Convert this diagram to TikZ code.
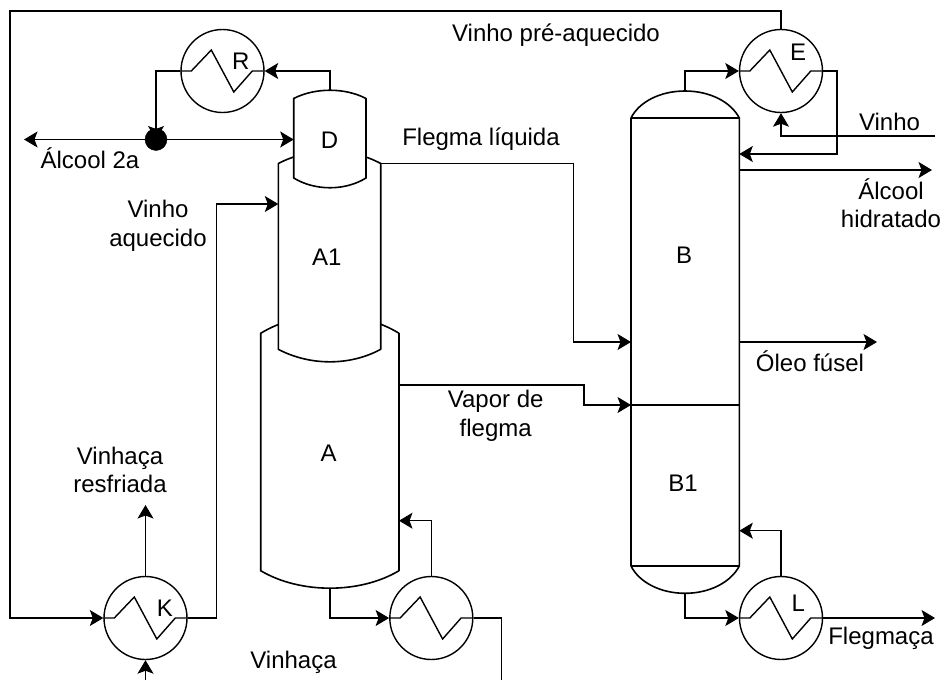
\documentclass[tikz,border=0pt]{standalone}
\usepackage{fontspec}
\setmainfont{Liberation Sans}
\usetikzlibrary{arrows.meta}
\tikzset{
  pipe/.style={line width=1.05pt,black},
  flow/.style={pipe,-{Stealth[length=13.5pt,width=16pt,inset=3pt]}},
  vessel/.style={line width=1.6pt,black,fill=white,line join=round},
  exch/.style={circle,draw=black,line width=1.4pt,minimum size=83pt,inner sep=0pt},
  coilline/.style={line width=1.4pt,black,line join=miter},
  txt/.style={font=\fontsize{24}{28.5}\selectfont,text=black,inner sep=0pt,align=center,anchor=base},
  hub/.style={circle,fill=black,draw=black,minimum size=22pt,inner sep=0pt}
}
\newcommand{\coil}[1]{\draw[coilline] (#1.west) -- ++(11,0) -- ++(20,-21) -- ++(22.5,42) -- ++(18.5,-21) -- (#1.east);}
\begin{document}
\begin{tikzpicture}[x=1pt,y=-1pt]
\useasboundingbox (0,0) rectangle (944,680);
% vessels
\draw[vessel] (260.7,333.3) .. controls (300,309) and (360,309) .. (399,333.3) -- (399,570.7) .. controls (360,594) and (300,594) .. (260.7,570.7) -- cycle;
\draw[vessel] (278.3,163.5) .. controls (310,147) and (350,147) .. (380.7,163.5) -- (380.7,349.3) .. controls (350,366) and (310,366) .. (278.3,349.3) -- cycle;
\draw[vessel] (293.7,98.5) .. controls (315,87.5) and (345,87.5) .. (366,98.5) -- (366,178) .. controls (345,191) and (315,191) .. (293.7,178) -- cycle;
\draw[vessel] (631,118) .. controls (639,102) and (660,91) .. (685,91) .. controls (710,91) and (731,102) .. (739.3,118) -- (739.3,566) .. controls (731,582) and (710,593.3) .. (685,593.3) .. controls (660,593.3) and (639,582) .. (631,566) -- cycle;
\draw[vessel] (631,118) -- (739.3,118);
\draw[vessel] (631,566) -- (739.3,566);
\draw[vessel] (631,405) -- (739.3,405);
% exchangers
\node[exch] (R) at (222.5,71) {};
\node[exch] (E) at (781,71) {};
\node[exch] (K) at (145.5,618) {};
\node[exch] (U) at (431.3,618) {};
\node[exch] (L) at (781,618) {};
\coil{R}\coil{E}\coil{K}\coil{U}\coil{L}
% attachment points
\coordinate (Jc) at (156,139.5);
\coordinate (Dtop) at (330,90.5);
\coordinate (Dwest) at (293.7,139.5);
\coordinate (OutAl) at (24,139.5);
\coordinate (A1in) at (278.3,204);
\coordinate (A1out) at (380.7,163.5);
\coordinate (BinF) at (631,342);
\coordinate (Aout) at (399,385);
\coordinate (BinV) at (631,405);
\coordinate (Btop) at (685,91);
\coordinate (Bref) at (739.3,154);
\coordinate (Vfeed) at (935,136);
\coordinate (BhOut) at (739.3,170);
\coordinate (HidEnd) at (932,170);
\coordinate (BoOut) at (739.3,342);
\coordinate (OleoEnd) at (877,342);
\coordinate (Bret) at (739.3,530.7);
\coordinate (Bbot) at (685,593.3);
\coordinate (FlegEnd) at (935,618);
\coordinate (Abot) at (330,588.3);
\coordinate (Aret) at (399,520.7);
\coordinate (UEnd) at (501.5,680);
\coordinate (KTop) at (145.5,505);
\coordinate (KIn) at (145.5,680);
% connectors
\draw[flow] (Dtop) -- (330,71) -- (R.east);
\draw[flow] (R.west) -- (156,71) -- (Jc);
\node[hub] (J) at (Jc) {};
\draw[flow] (J) -- (Dwest);
\draw[flow] (J) -- (OutAl);
\draw[flow] (E.north) -- (781,11) -- (10,11) -- (10,618) -- (K.west);
\draw[flow] (K.east) -- (216.5,618) -- (216.5,204) -- (A1in);
\draw[flow] (K.north) -- (KTop);
\draw[flow] (KIn) -- (K.south);
\draw[flow] (A1out) -- (573.3,163.5) -- (573.3,342) -- (BinF);
\draw[flow] (Aout) -- (584,385) -- (584,405) -- (BinV);
\draw[flow] (Btop) -- (685,71) -- (E.west);
\draw[flow] (E.east) -- (837,71) -- (837,154) -- (Bref);
\draw[flow] (Vfeed) -- (781,136) -- (E.south);
\draw[flow] (BhOut) -- (HidEnd);
\draw[flow] (BoOut) -- (OleoEnd);
\draw[flow] (L.north) -- (781,530.7) -- (Bret);
\draw[flow] (Bbot) -- (685,618) -- (L.west);
\draw[flow] (L.east) -- (FlegEnd);
\draw[flow] (Abot) -- (330,618) -- (U.west);
\draw[flow] (U.north) -- (431.3,520.7) -- (Aret);
\draw[pipe] (U.east) -- (501.5,618) -- (UEnd);
% labels
\node[txt] (tR) at (240.7,69) {R};
\node[txt] (tE) at (798,60) {E};
\node[txt] (tK) at (165,616) {K};
\node[txt] (tL) at (798.3,611) {L};
\node[txt] (tD) at (329.5,148) {D};
\node[txt] (tA1) at (326.7,265.7) {A1};
\node[txt] (tA) at (328.7,461) {A};
\node[txt] (tB) at (684,263.3) {B};
\node[txt] (tB1) at (683,491.7) {B1};
\node[txt] (tVP) at (556,41) {Vinho pré-aquecido};
\node[txt] (tFL) at (481,145) {Flegma líquida};
\node[txt] (tA2) at (90,168) {Álcool 2a};
\node[txt] (tVA) at (158,246) {Vinho\\aquecido};
\node[txt] (tVF) at (495.7,436) {Vapor de\\flegma};
\node[txt] (tVR) at (120,492.7) {Vinhaça\\resfriada};
\node[txt] (tV) at (293.5,668) {Vinhaça};
\node[txt] (tFg) at (881,644) {Flegmaça};
\node[txt] (tVi) at (889.5,130) {Vinho};
\node[txt] (tAH) at (891,227.7) {Álcool\\hidratado};
\node[txt] (tOF) at (810,371) {Óleo fúsel};
\end{tikzpicture}
\end{document}
